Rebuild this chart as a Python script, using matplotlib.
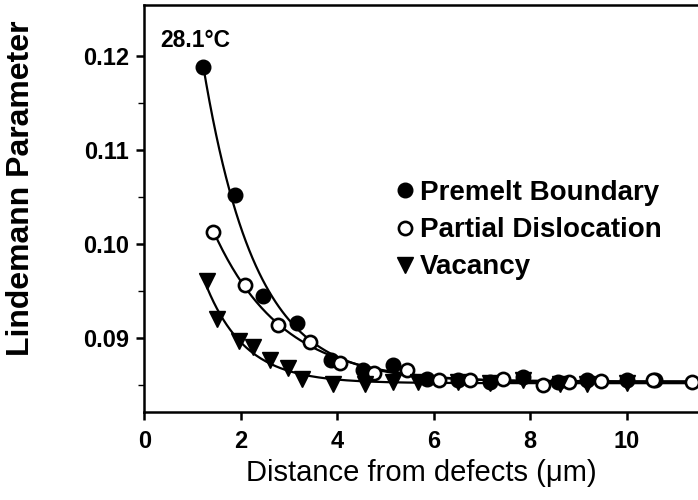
import matplotlib
matplotlib.use("Agg")
import matplotlib.pyplot as plt
import numpy as np
from matplotlib.lines import Line2D

plt.rcParams['font.family'] = ['Liberation Sans', 'DejaVu Sans']

# values
premelt_x = [1.21, 1.88, 2.46, 3.16, 3.87, 4.53, 5.16, 5.86, 6.50, 7.17, 7.86, 8.58, 9.18, 10.00, 10.58]
premelt_y = [0.1188, 0.1052, 0.0944, 0.0916, 0.0876, 0.0866, 0.0871, 0.0856, 0.0855, 0.0853, 0.0858, 0.0853, 0.0855, 0.0855, 0.0855]

partial_x = [1.42, 2.09, 2.77, 3.43, 4.06, 4.77, 5.45, 6.10, 6.75, 7.44, 8.27, 8.80, 9.46, 10.55, 11.36]
partial_y = [0.1013, 0.0956, 0.0914, 0.0896, 0.0873, 0.0862, 0.0866, 0.0855, 0.0855, 0.0856, 0.0850, 0.0853, 0.0854, 0.0855, 0.0853]

vacancy_x = [1.30, 1.50, 1.95, 2.25, 2.60, 2.98, 3.27, 3.90, 4.57, 5.16, 5.68, 6.50, 7.17, 7.86, 8.62, 9.18, 10.00]
vacancy_y = [0.0960, 0.0920, 0.0897, 0.0890, 0.0876, 0.0868, 0.0856, 0.0851, 0.0851, 0.0853, 0.0853, 0.0853, 0.0852, 0.0855, 0.0851, 0.0851, 0.0852]

series_labels = ["Premelt Boundary", "Partial Dislocation", "Vacancy"]
x_ticks = [0, 2, 4, 6, 8, 10]
y_ticks = [0.09, 0.10, 0.11, 0.12]
y_minor = [0.085, 0.095, 0.105, 0.115]
temp_label = "28.1°C"

XMAX = 11.48


def exp_fit(x, y):
    """Fit y = a + b*exp(-(x - x0)/c): grid over c, linear least squares for a, b."""
    x = np.asarray(x)
    y = np.asarray(y)
    x0 = x.min()
    best = None
    for c in np.linspace(0.1, 4.0, 400):
        A = np.column_stack([np.ones_like(x), np.exp(-(x - x0) / c)])
        coef, *_ = np.linalg.lstsq(A, y, rcond=None)
        err = np.sum((A @ coef - y) ** 2)
        if best is None or err < best[0]:
            best = (err, c, coef)
    _, c, (a, b) = best
    xs = np.linspace(x0, XMAX, 300)
    return xs, a + b * np.exp(-(xs - x0) / c)


fig = plt.figure(figsize=(6.98, 5.0), dpi=100)
ax = fig.add_axes([0.207, 0.176, 0.793, 0.814])

for xs, ys in [(premelt_x, premelt_y), (partial_x, partial_y), (vacancy_x, vacancy_y)]:
    fx, fy = exp_fit(xs, ys)
    ax.plot(fx, fy, color="black", lw=1.6, zorder=2)

ax.plot(premelt_x, premelt_y, "o", ms=10.5, color="black", zorder=3)
ax.plot(partial_x, partial_y, "o", ms=9.5, mfc="white", mec="black", mew=1.9, zorder=3)
ax.plot(vacancy_x, vacancy_y, "v", ms=12, color="black", zorder=4)

ax.set_xlim(0, XMAX)
ax.set_ylim(0.0821, 0.1254)
ax.set_xticks(x_ticks)
ax.set_yticks(y_ticks)
ax.set_yticks(y_minor, minor=True)
ax.set_yticklabels([f"{v:.2f}" for v in y_ticks])

for s in ["left", "bottom", "top"]:
    ax.spines[s].set_linewidth(1.8)
ax.spines["right"].set_visible(False)
ax.tick_params(axis="both", which="major", direction="out", length=6, width=1.8,
               labelsize=17, pad=7)
ax.tick_params(axis="y", which="major", pad=5)
ax.tick_params(axis="y", which="minor", direction="out", length=4, width=1.0)
for lab in ax.get_xticklabels() + ax.get_yticklabels():
    lab.set_fontweight("bold")

ax.set_xlabel("Distance from defects (μm)", fontsize=21, labelpad=4)
ax.set_ylabel("Lindemann Parameter", fontsize=23, fontweight="bold")
ax.yaxis.set_label_coords(-0.196, 0.55)

ax.text(0.028, 0.914, temp_label, transform=ax.transAxes, fontsize=16.5,
        fontweight="bold", ha="left", va="center")

handles = [
    Line2D([], [], ls="none", marker="o", ms=10.5, color="black"),
    Line2D([], [], ls="none", marker="o", ms=9.5, mfc="white", mec="black", mew=1.9),
    Line2D([], [], ls="none", marker="v", ms=12, color="black"),
]
ax.legend(handles, series_labels, loc="upper left", bbox_to_anchor=(0.43, 0.597),
          frameon=False, handlelength=0.8, handletextpad=0.15, labelspacing=0.4,
          prop={"size": 20, "weight": "bold"}, borderaxespad=0)

fig.savefig("out.png", dpi=100)
